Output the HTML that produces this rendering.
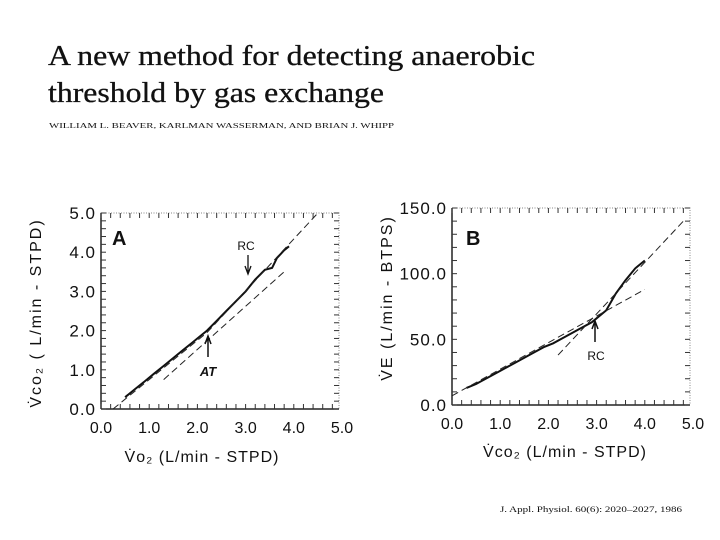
<!DOCTYPE html>
<html><head><meta charset="utf-8"><style>
html,body{margin:0;padding:0;background:#fff;width:720px;height:540px;overflow:hidden}
svg text{font-family:"Liberation Sans",sans-serif;fill:#111}
.serif{font-family:"Liberation Serif",serif}
</style></head><body>
<svg id="s" width="720" height="540" xmlns="http://www.w3.org/2000/svg">
<text class="serif" x="48" y="65" font-size="28" textLength="487" lengthAdjust="spacingAndGlyphs" stroke="#111" stroke-width="0.3">A new method for detecting anaerobic</text>
<text class="serif" x="48" y="102" font-size="28" textLength="336" lengthAdjust="spacingAndGlyphs" stroke="#111" stroke-width="0.3">threshold by gas exchange</text>
<text class="serif" x="49" y="128" font-size="7.5" textLength="345" lengthAdjust="spacingAndGlyphs">WILLIAM L. BEAVER, KARLMAN WASSERMAN, AND BRIAN J. WHIPP</text>
<text class="serif" x="500" y="512" font-size="8" fill="#555" textLength="182" lengthAdjust="spacingAndGlyphs">J. Appl. Physiol. 60(6): 2020–2027, 1986</text>
<g id="gA"></g>
<g id="gB"></g>
</svg>
<script>
// Chart A data
const aTicksX = ["0.0","1.0","2.0","3.0","4.0","5.0"];
const aTicksY = ["0.0","1.0","2.0","3.0","4.0","5.0"];
const aDataX = [0.5,0.7,0.9,1.1,1.3,1.5,1.7,1.9,2.1,2.2,2.4,2.6,2.8,3.0,3.2,3.4,3.55,3.65,3.8,3.9];
const aDataY = [0.3,0.5,0.7,0.9,1.1,1.3,1.5,1.7,1.9,2.0,2.25,2.5,2.75,3.0,3.3,3.55,3.6,3.85,4.05,4.15];
const aLine1 = [[0.25,0.0],[2.2,1.95],[4.5,5.0]];
const aLine2 = [[1.3,0.75],[3.8,3.5]];
// Chart B data
const bTicksX = ["0.0","1.0","2.0","3.0","4.0","5.0"];
const bTicksY = ["0.0","50.0","100.0","150.0"];
const bDataX = [0.3,0.5,0.7,0.9,1.1,1.3,1.5,1.7,1.9,2.1,2.3,2.5,2.7,2.9,3.0,3.2,3.4,3.6,3.8,4.0];
const bDataY = [13,16,20,24,28,32,36,40,44,47,51,55,59,63,66,72,85,95,104,110];
const bLine1 = [[0.0,7],[4.0,88]];
const bLine2 = [[2.2,38],[4.8,140]];

const NS="http://www.w3.org/2000/svg";
function mk(p,tag,at,txt){const e=document.createElementNS(NS,tag);for(const k in at)e.setAttribute(k,at[k]);if(txt!==undefined)e.textContent=txt;p.appendChild(e);return e;}

function chart(g,cfg){
  const sx=v=>cfg.x0+(v-cfg.xmin)/(cfg.xmax-cfg.xmin)*(cfg.x1-cfg.x0);
  const sy=v=>cfg.y0-(v-cfg.ymin)/(cfg.ymax-cfg.ymin)*(cfg.y0-cfg.y1);
  const fr=mk(g,'rect',{x:cfg.x0,y:cfg.y1,width:cfg.boxR-cfg.x0,height:cfg.y0-cfg.y1,fill:'none',stroke:'#888','stroke-width':1,'stroke-dasharray':'1 1.5'});
  
  
  mk(g,'line',{x1:cfg.x0,y1:cfg.y1,x2:cfg.x0,y2:cfg.y0,stroke:'#222','stroke-width':1.5});
  mk(g,'line',{x1:cfg.x0,y1:cfg.y0,x2:cfg.boxR,y2:cfg.y0,stroke:'#222','stroke-width':1.5});
  for(let i=0;i<=25;i++){const v=cfg.xmin+i*(cfg.xmax-cfg.xmin)/25;const x=sx(v);if(x>cfg.boxR)break;
    mk(g,'line',{x1:x,y1:cfg.y0,x2:x,y2:cfg.y0-5,stroke:'#333','stroke-width':1});
    mk(g,'line',{x1:x,y1:cfg.y1,x2:x,y2:cfg.y1+5,stroke:'#333','stroke-width':1});}
  const ny=cfg.ynTicks;
  for(let i=0;i<=ny;i++){const y=sy(cfg.ymin+i*(cfg.ymax-cfg.ymin)/ny);
    mk(g,'line',{x1:cfg.x0,y1:y,x2:cfg.x0+5,y2:y,stroke:'#333','stroke-width':1});
    mk(g,'line',{x1:cfg.boxR,y1:y,x2:cfg.boxR-5,y2:y,stroke:'#333','stroke-width':1});}
  cfg.tx.forEach((t,i)=>{const v=cfg.xmin+i*(cfg.xmax-cfg.xmin)/(cfg.tx.length-1);
    const e=mk(g,'text',{x:sx(v),y:cfg.y0+24,'font-size':16,'text-anchor':'middle'},t);
    
    });
  cfg.ty.forEach((t,i)=>{const v=cfg.ymin+i*(cfg.ymax-cfg.ymin)/(cfg.ty.length-1);
    const e=mk(g,'text',{x:cfg.x0-5,y:sy(v)+6,'font-size':17,'text-anchor':'end','letter-spacing':'1'},t);
    
    });
  let d='';cfg.dx.forEach((v,i)=>{d+=(i?'L':'M')+sx(v).toFixed(1)+' '+sy(cfg.dy[i]).toFixed(1);});
  const p=mk(g,'path',{d:d,fill:'none',stroke:'#111','stroke-width':2});
  
  
  cfg.lines.forEach(L=>{let dd='';L.forEach((pt,i)=>{dd+=(i?'L':'M')+sx(pt[0])+' '+sy(pt[1]);});
    const e=mk(g,'path',{d:dd,fill:'none',stroke:'#222','stroke-width':1,'stroke-dasharray':'7 4'});
    
    });
  return {sx,sy};
}
const gA=document.getElementById('gA'),gB=document.getElementById('gB');
const A=chart(gA,{x0:101,x1:342,boxR:339,y0:409,y1:213,xmin:0,xmax:5,ymin:0,ymax:5,ynTicks:25,tx:aTicksX,ty:aTicksY,dx:aDataX,dy:aDataY,lines:[aLine1,aLine2]});
const B=chart(gB,{x0:452,x1:693,boxR:690,y0:405,y1:208,xmin:0,xmax:5,ymin:0,ymax:150,ynTicks:15,tx:bTicksX,ty:bTicksY,dx:bDataX,dy:bDataY,lines:[bLine1,bLine2]});
function lbl(g,at,t,name){const e=mk(g,'text',at,t);return e;}
lbl(gA,{x:112,y:245,'font-size':20,'font-weight':'bold'},'A','panel-label-a');
lbl(gB,{x:466,y:245,'font-size':20,'font-weight':'bold'},'B','panel-label-b');
lbl(gA,{x:246,y:250,'font-size':12,'text-anchor':'middle'},'RC','rc-label-a');
mk(gA,'path',{d:'M248 255 L248 272 M245 266 L248 274 L251 266',stroke:'#111','stroke-width':1.3,fill:'none'});
lbl(gA,{x:208,y:376,'font-size':13,'font-style':'italic','font-weight':'bold','text-anchor':'middle'},'AT','at-label');
mk(gA,'path',{d:'M208 357 L208 338 M205 344 L208 336 L211 344',stroke:'#111','stroke-width':1.5,fill:'none'});
lbl(gB,{x:596,y:360,'font-size':12,'text-anchor':'middle'},'RC','rc-label-b');
mk(gB,'path',{d:'M595 342 L595 323 M592 329 L595 321 L598 329',stroke:'#111','stroke-width':1.5,fill:'none'});
lbl(gA,{x:202,y:462,'font-size':16,'text-anchor':'middle','letter-spacing':'1'},'V̇o₂ (L/min - STPD)','x-axis-title-a');
lbl(gB,{x:565,y:457,'font-size':16,'text-anchor':'middle','letter-spacing':'1'},'V̇co₂ (L/min - STPD)','x-axis-title-b');
lbl(gA,{x:0,y:0,'font-size':16,'text-anchor':'middle','letter-spacing':'2',transform:'translate(41,313) rotate(-90)'},'V̇co₂ ( L/min - STPD)','y-axis-title-a');
lbl(gB,{x:0,y:0,'font-size':16,'text-anchor':'middle','letter-spacing':'2',transform:'translate(392,298) rotate(-90)'},'V̇E (L/min - BTPS)','y-axis-title-b');
</script>
</body></html>
